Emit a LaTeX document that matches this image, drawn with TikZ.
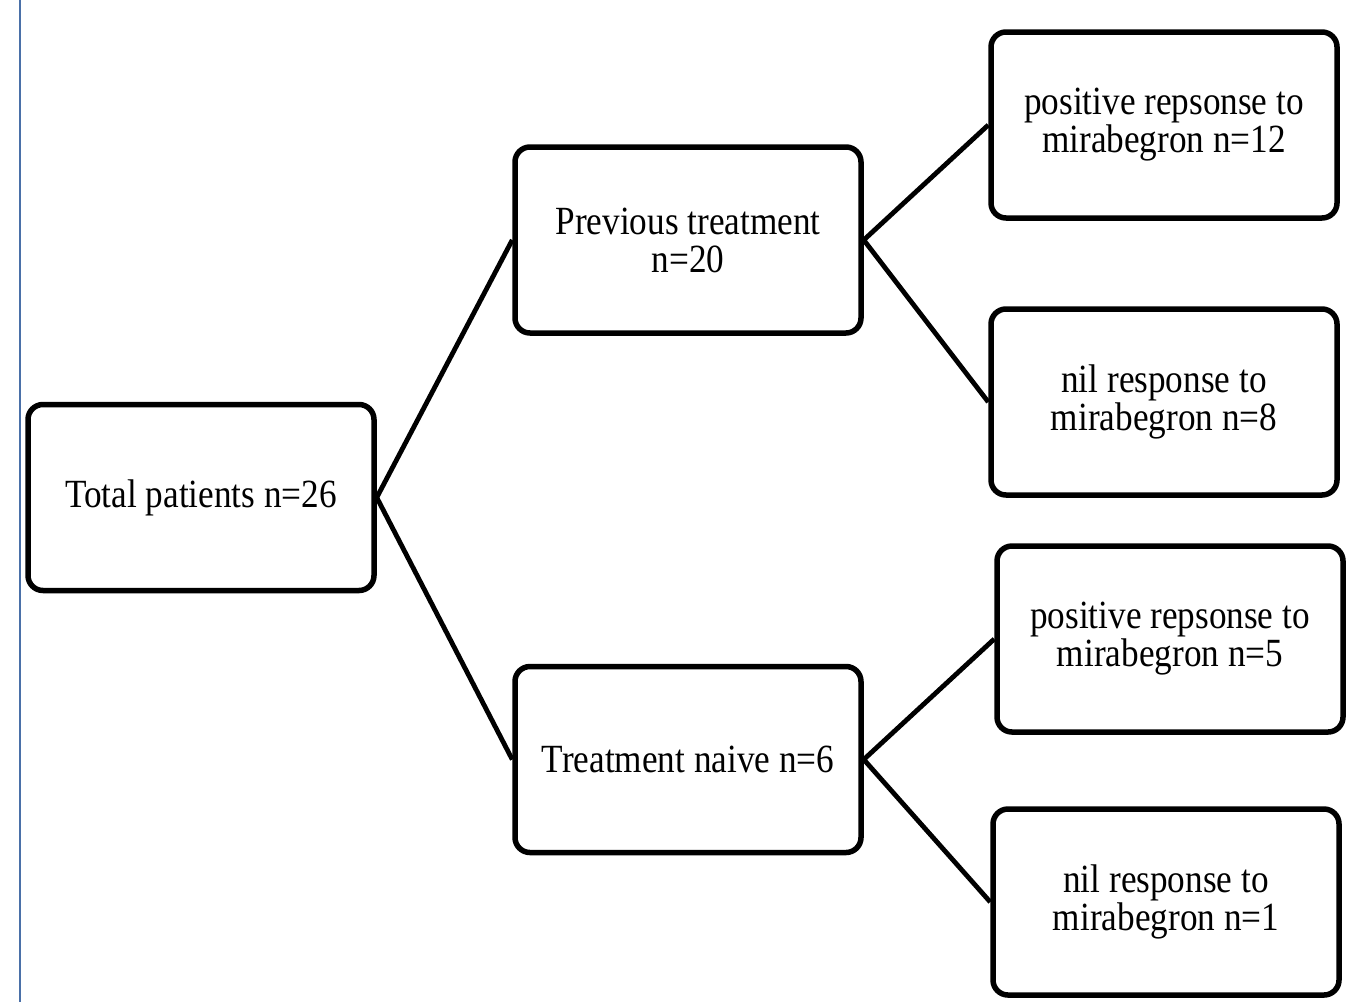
\documentclass[tikz,border=0pt]{standalone}
\usepackage{fontspec}
\setmainfont{Liberation Serif}[FakeStretch=0.88]
\begin{document}
\begin{tikzpicture}[x=1pt,y=-1pt,
  box/.style={draw=black, line width=5.5pt, rounded corners=15pt, minimum width=346pt, minimum height=186pt, inner sep=0pt, align=center, font=\fontsize{40}{38}\selectfont, fill=white},
  link/.style={line width=4.8pt}]
\useasboundingbox (0,0) rectangle (1346,1002);
\draw[color={rgb,255:red,74;green,112;blue,168}, line width=2.4pt] (20,0) -- (20,1002);
\node[box] (tot) at (201,497.5) {Total patients n=26};
\node[box] (prev) at (688,240) {Previous treatment\\n=20};
\node[box] (naive) at (688,759.5) {Treatment naive n=6};
\node[box] (p12) at (1164,125) {positive repsonse to\\mirabegron n=12};
\node[box] (n8) at (1164,402) {nil response to\\mirabegron n=8};
\node[box] (p5) at (1170,639) {positive repsonse to\\mirabegron n=5};
\node[box] (n1) at (1166,902) {nil response to\\mirabegron n=1};
\draw[link] (tot.east) -- (prev.west);
\draw[link] (tot.east) -- (naive.west);
\draw[link] (prev.east) -- (p12.west);
\draw[link] (prev.east) -- (n8.west);
\draw[link] (naive.east) -- (p5.west);
\draw[link] (naive.east) -- (n1.west);
\end{tikzpicture}
\end{document}
